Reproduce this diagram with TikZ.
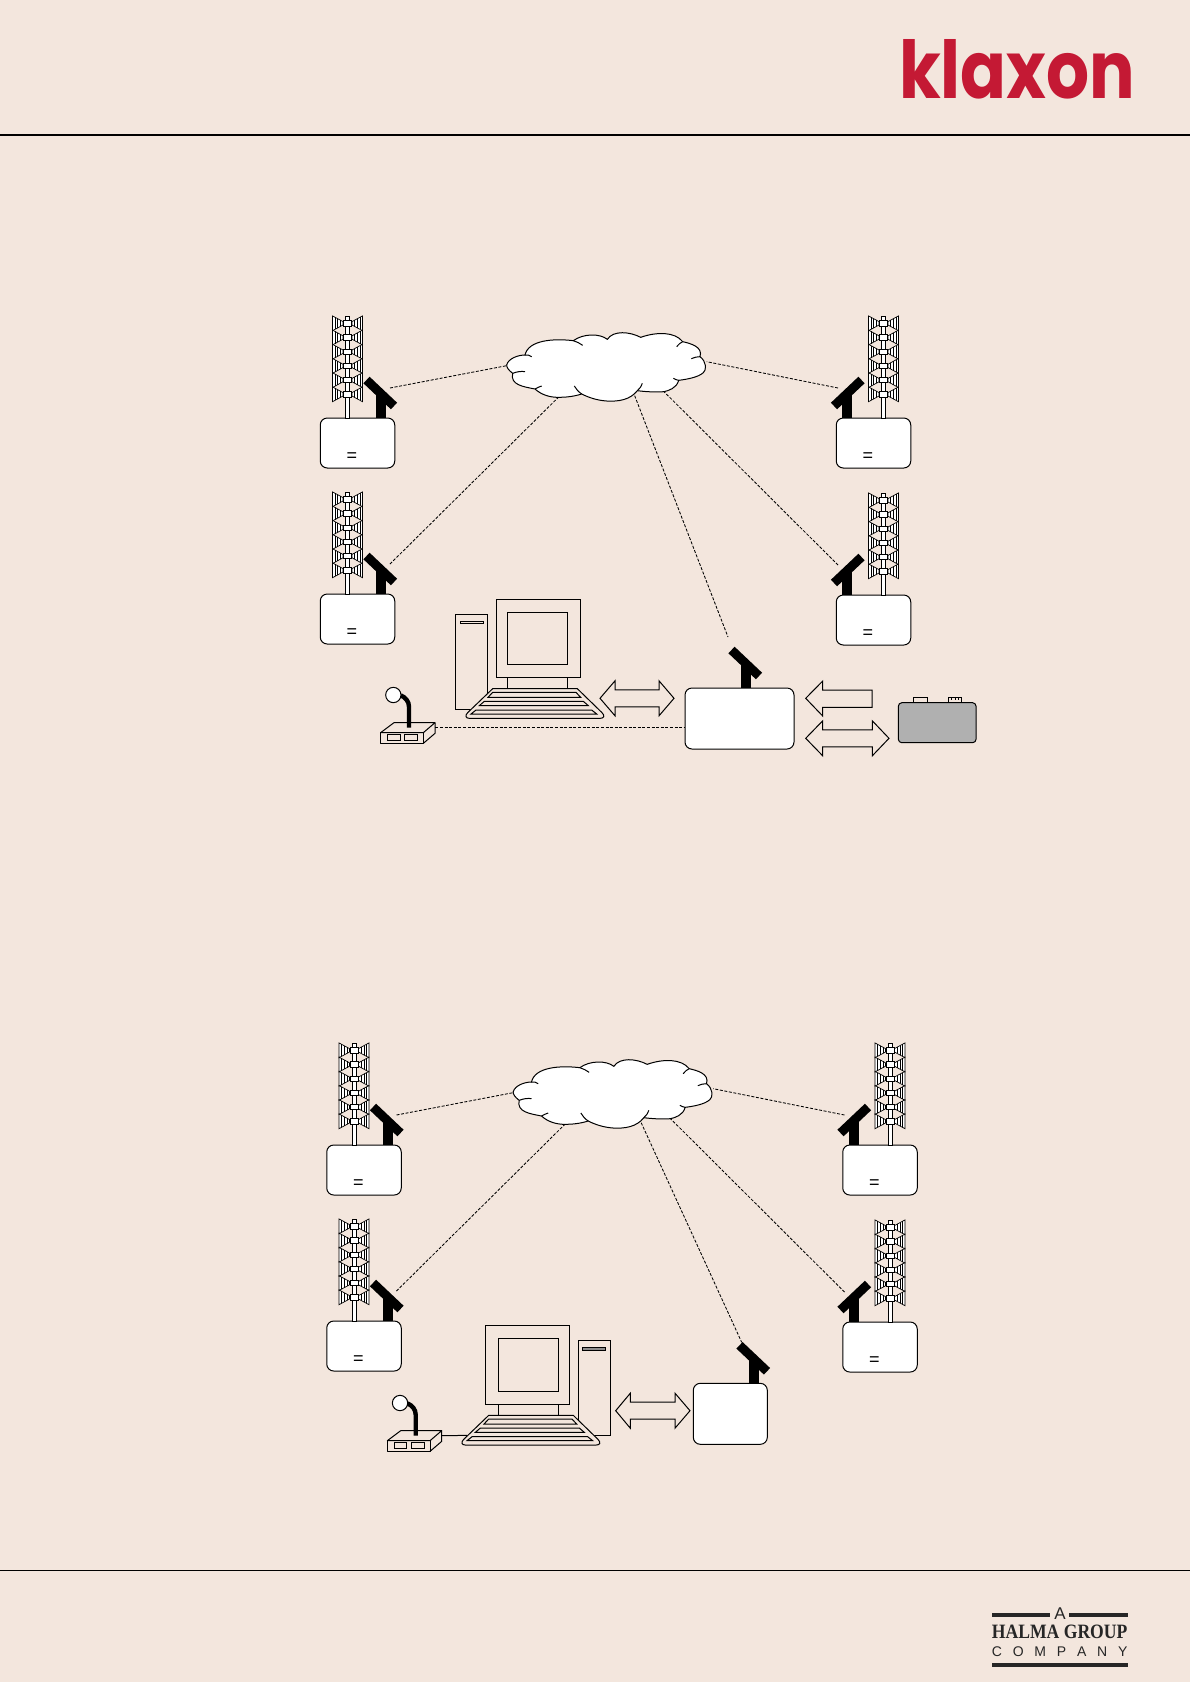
\documentclass[tikz,border=0pt]{standalone}
\usepackage{fontspec}
\usepackage{graphicx}
\setmainfont{Liberation Sans}
\newfontfamily\logofont{Poppins}[BoldFont={Poppins Bold}]
\newfontfamily\serifbold{Liberation Serif}
\definecolor{paper}{HTML}{F3E6DD}
\definecolor{klaxonred}{HTML}{C41934}
\definecolor{batt}{HTML}{B0B0B0}
\tikzset{
  thinline/.style={line width=1pt,draw=black},
  linkline/.style={line width=0.85pt,draw=black,dash pattern=on 3pt off 1.6pt},
  blockbox/.style={draw=black,line width=1pt,fill=white,rounded corners=7pt,inner sep=0pt},
  blockarrow/.style={thinline,line join=miter},
  hornshape/.style={draw=black,line width=0.7pt,fill=white},
  eqsign/.style={inner sep=0pt,font=\fontsize{18pt}{18pt}\selectfont},
}
% antenna: origin at foot of the mast
\newcommand\antennaMark[4]{%
  \begin{scope}[shift={(#2,#3)},xscale=#4]
    \fill[black] (-5,0) -- (-5,-25) -- (5,-25) -- (5,0) -- cycle;
    \draw[black,line width=9pt,line cap=butt] (-14.5,-38) -- (13,-12);
    \coordinate (#1-tip) at (9,-30);
    \coordinate (#1-far) at (-18,-51);
    \coordinate (#1-near) at (-12.3,-41);
  \end{scope}}
% outstation: origin at the centre of the box top edge
\newcommand\station[4]{%
  \node[blockbox,minimum width=74.5pt,minimum height=50pt] (#1) at (#2,#3+25) {};
  \node[eqsign] (#1-eq) at (#2-5.6,#3+39.5) {=};
  \begin{scope}[shift={(#2,#3)},xscale=#4]
    \draw[thinline,fill=white] (-12,0) -- (-12,-102) -- (-8,-102) -- (-8,0) -- cycle;
    \foreach \i in {0,...,5}{
      \begin{scope}[shift={(-10,-94.7+14.2*\i)}]
        \foreach \s in {-1,1}{
          \draw[hornshape] (\s*4.5,-1.7) -- (\s*15,-7.4) -- (\s*15,7.4) -- (\s*4.5,1.7) -- cycle;
          \foreach \v in {7.2,10,12.6}
            \draw[line width=0.6pt] (\s*\v,{-1.7-(\v-4.5)*0.54}) -- (\s*\v,{1.7+(\v-4.5)*0.54});
        }
        \draw[thinline,fill=white] (-4,-2.7) rectangle (4,2.7);
      \end{scope}
    }
  \end{scope}
  \antennaMark{#1a}{#2+#4*25-1.5}{#3}{#4}}
% cloud: drawn in 3x units
\newcommand\cloudMark[3]{%
  \begin{scope}[shift={(#2,#3)},scale=0.33333]
    \draw[thinline,fill=white]
      (50,135) .. controls (55,115) and (85,105) .. (105,105)
      .. controls (115,60) and (190,55) .. (250,62)
      .. controls (280,40) and (330,40) .. (352,58)
      .. controls (370,30) and (420,35) .. (452,52)
      .. controls (500,35) and (555,35) .. (578,65)
      .. controls (600,70) and (640,80) .. (630,110)
      .. controls (650,125) and (650,150) .. (640,158)
      .. controls (625,172) and (590,178) .. (566,181)
      .. controls (560,205) and (535,212) .. (522,215)
      .. controls (495,217) and (465,215) .. (442,212)
      .. controls (420,240) and (385,245) .. (350,243)
      .. controls (320,241) and (295,232) .. (275,222)
      .. controls (250,230) and (225,232) .. (205,232)
      .. controls (180,232) and (155,225) .. (135,207)
      .. controls (100,200) and (60,195) .. (68,160)
      .. controls (55,150) and (50,142) .. (50,135) -- cycle;
    \draw[thinline] (105,105) .. controls (112,104) and (120,106) .. (125,110);
    \draw[thinline] (68,160) .. controls (80,155) and (95,153) .. (105,155);
    \draw[thinline] (135,207) .. controls (140,204) and (148,200) .. (155,198);
    \draw[thinline] (250,62) .. controls (260,65) and (270,70) .. (278,76);
    \draw[thinline] (275,222) .. controls (265,215) and (258,207) .. (253,198);
    \draw[thinline] (442,212) .. controls (450,205) and (455,198) .. (457,190);
    \draw[thinline] (566,181) .. controls (560,180) and (555,178) .. (550,175);
    \draw[thinline] (578,65) .. controls (572,68) and (565,73) .. (560,80);
    \draw[thinline] (630,110) .. controls (622,110) and (612,112) .. (604,116);
    \coordinate (#1-w) at (50,137);
    \coordinate (#1-sw) at (205,232);
    \coordinate (#1-s) at (434,227);
    \coordinate (#1-se) at (522,215);
    \coordinate (#1-e) at (650,125);
  \end{scope}}
% desk microphone: drawn in 3x units
\newcommand\micMark[3]{%
  \begin{scope}[shift={(#2,#3)},scale=0.33333]
    \draw[thinline,line join=round] (32,428) -- (72,398) -- (195,398) -- (160,428) -- cycle;
    \draw[thinline,line join=round] (32,428) rectangle (160,460);
    \draw[thinline,line join=round] (195,398) -- (195,430) -- (160,460);
    \draw[thinline] (52,434) rectangle (90,452);
    \draw[thinline] (104,434) rectangle (143,452);
    \draw[black,line width=4.4pt] (117,413) -- (117,350) .. controls (117,335) and (107,322) .. (92,316);
    \draw[thinline,fill=white] (70,315) circle (23);
    \coordinate (#1-port) at (196,413);
  \end{scope}}
% keyboard: drawn in 3x units
\newcommand\keyboardMark[3]{%
  \begin{scope}[shift={(#2,#3)},scale=0.33333]
    \draw[thinline,fill=paper] (368,296) -- (622,296) -- (696,368)
      .. controls (706,378) and (702,385) .. (690,385) -- (298,385)
      .. controls (286,385) and (285,376) .. (293,368) -- cycle;
    \draw[thinline] (368,307) -- (618,307) -- (632,322) -- (354,322) -- cycle;
    \draw[thinline] (343,334) -- (640,334) -- (655,347) -- (328,347) -- cycle;
    \draw[thinline] (318,360) -- (665,360) -- (680,372) -- (303,372) -- cycle;
    \coordinate (#1-w) at (304,356);
  \end{scope}}
% double block arrow
\newcommand\dblArrow[5]{%
  \draw[blockarrow] (#1,#5) -- (#2,#5-17.5) -- (#2,#5-8.5) -- (#3,#5-8.5) -- (#3,#5-17.5)
     -- (#4,#5) -- (#3,#5+17.5) -- (#3,#5+8.5) -- (#2,#5+8.5) -- (#2,#5+17.5) -- cycle;}
\begin{document}
\begin{tikzpicture}[x=1pt,y=-1pt]
\useasboundingbox (0,0) rectangle (1190,1682);
\fill[paper] (0,0) rectangle (1190,1682);

% header and footer
\draw[line width=1.4pt] (0,135) -- (1190,135);
\draw[line width=0.7pt] (0,1570) -- (1190,1570);
\node[anchor=south west,inner sep=0pt,text=klaxonred] (logo) at (899,99.5)
  {\resizebox{236pt}{59pt}{\logofont\bfseries klaxon}};
\fill[black!85] (991.7,1613.3) rectangle (1050,1616.8);
\fill[black!85] (1069.3,1613.3) rectangle (1127.7,1616.8);
\node[inner sep=0pt,text=black!85,font=\fontsize{17pt}{17pt}\selectfont] (halmaA) at (1060,1614) {A};
\node[anchor=south west,inner sep=0pt,text=black!85] (halma) at (991.7,1638.5)
  {\resizebox{135.5pt}{13.5pt}{\serifbold\bfseries HALMA GROUP}};
\node[anchor=south west,inner sep=0pt,text=black!85,font=\fontsize{14pt}{14pt}\selectfont] (halmaC) at (991.7,1656.7)
  {\makebox[135.5pt][s]{C\hfill O\hfill M\hfill P\hfill A\hfill N\hfill Y}};
\fill[black!85] (991.7,1663.3) rectangle (1127.7,1666.8);

% ---------- first diagram ----------
\cloudMark{ca}{490}{320}
\station{ta}{357.5}{418}{1}
\station{tb}{357.5}{594}{1}
\station{tc}{873.5}{418}{-1}
\station{td}{873.5}{595}{-1}
\draw[linkline] (taa-tip) -- (ca-w);
\draw[linkline] (tba-tip) -- (ca-sw);
\draw[linkline] (tca-tip) -- (ca-e);
\draw[linkline] (tda-tip) -- (ca-se);
\node[blockbox,minimum width=109pt,minimum height=61pt] (hubA) at (739.5,718.5) {};
\antennaMark{hubAa}{746}{688}{1}
\draw[linkline] (ca-s) -- (hubAa-far);
% computer
\draw[thinline] (455.7,614) rectangle (487.7,709);
\draw[thinline] (460.3,621) rectangle (483.7,623.7);
\draw[thinline] (496.7,599) rectangle (580.3,677.7);
\draw[thinline] (507.7,612.3) rectangle (567.7,664.7);
\draw[thinline] (507.7,677.7) -- (507.7,689) (567,677.7) -- (567,689);
\keyboardMark{kbA}{370}{590}
\micMark{micA}{370}{590}
\draw[linkline] (micA-port) -- (micA-port -| hubA.west);
\dblArrow{600}{615}{659}{674}{698.3}
% battery side
\draw[blockarrow] (805.7,698.3) -- (822.7,681) -- (822.7,690) -- (872,690) -- (872,707.3) -- (822.7,707.3) -- (822.7,716) -- cycle;
\dblArrow{805.7}{822.7}{872.3}{889}{738.3}
\node[draw=black,line width=1pt,fill=batt,rounded corners=3.5pt,inner sep=0pt,minimum width=77.7pt,minimum height=40pt] (battery) at (937.2,722.7) {};
\draw[thinline] (913.3,702.7) rectangle (927.7,697.3);
\draw[thinline] (948.3,702.7) rectangle (961.7,697.3);
\draw[line width=0.6pt] (951.7,697.3) -- (951.7,700) (955,697.3) -- (955,700) (958.3,697.3) -- (958.3,700);

% ---------- second diagram ----------
\cloudMark{cb}{496.5}{1047}
\station{ua}{364}{1145}{1}
\station{ub}{364}{1321}{1}
\station{uc}{880}{1145}{-1}
\station{ud}{880}{1322}{-1}
\draw[linkline] (uaa-tip) -- (cb-w);
\draw[linkline] (uba-tip) -- (cb-sw);
\draw[linkline] (uca-tip) -- (cb-e);
\draw[linkline] (uda-tip) -- (cb-se);
\node[blockbox,minimum width=74pt,minimum height=61pt] (hubB) at (730.3,1413.8) {};
\antennaMark{hubBa}{754}{1383.3}{1}
\draw[linkline] (cb-s) -- (hubBa-near);
% computer
\draw[thinline] (578,1340.7) rectangle (610.3,1435.7);
\draw[thinline,fill=black!45] (582,1347.3) rectangle (605.7,1350.7);
\draw[thinline] (485.7,1325.3) rectangle (569,1404.3);
\draw[thinline] (498.3,1338.7) rectangle (558.3,1391.3);
\draw[thinline] (498.3,1404.3) -- (498.3,1416) (558.3,1404.3) -- (558.3,1416);
\keyboardMark{kbB}{366}{1316.7}
\micMark{micB}{376.7}{1298}
\draw[thinline] (micB-port) -- (kbB-w);
\dblArrow{615.7}{630.3}{675}{690}{1410.7}
\end{tikzpicture}
\end{document}
